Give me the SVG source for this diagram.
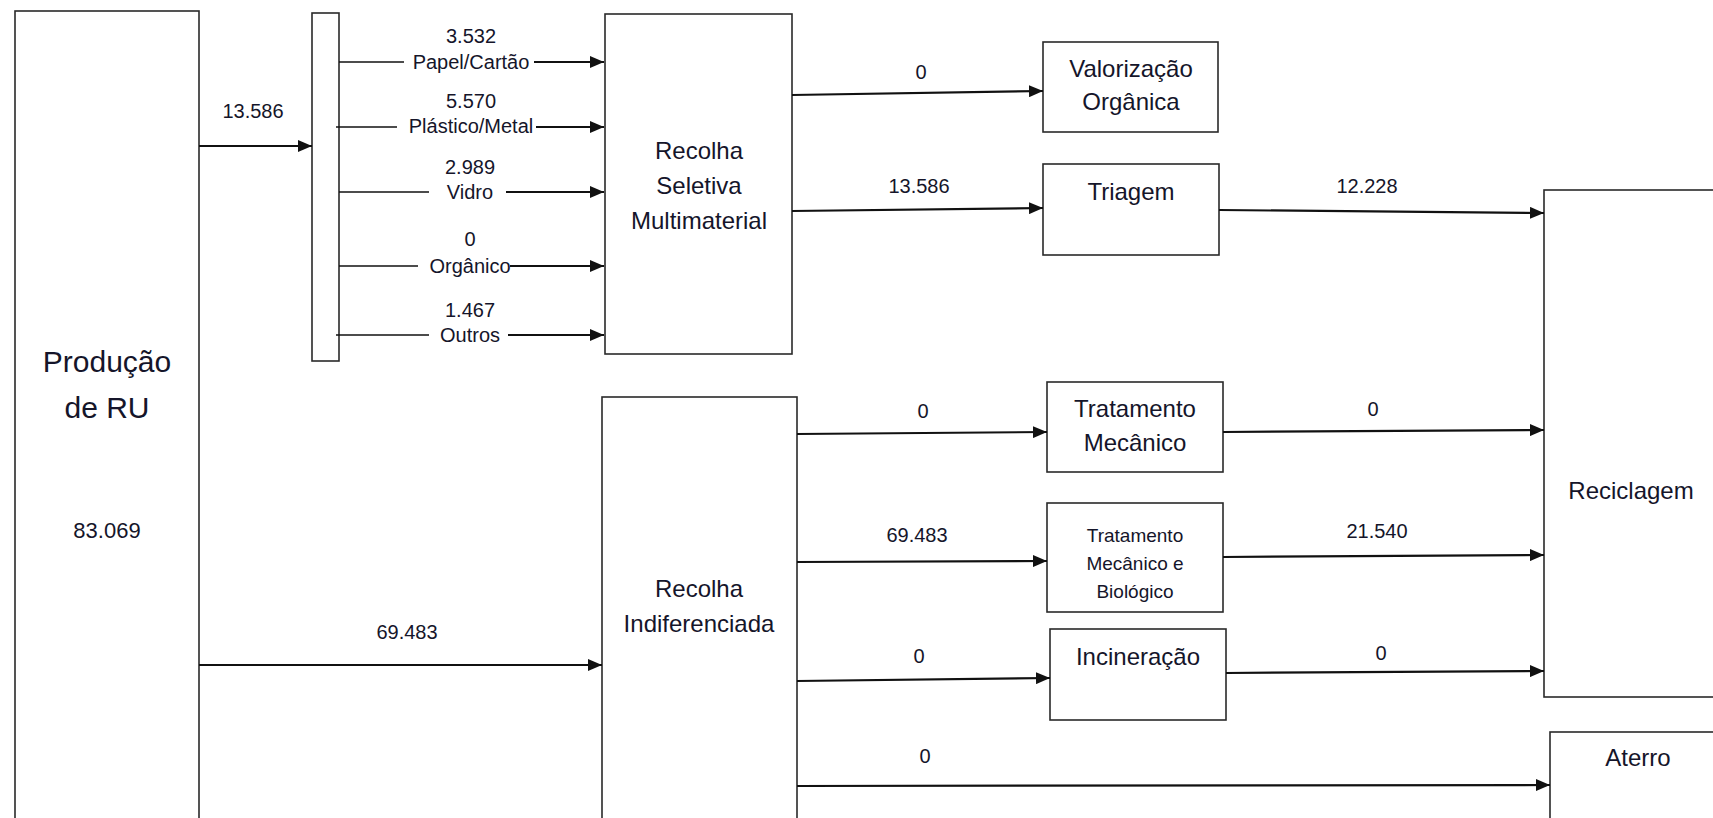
<svg xmlns="http://www.w3.org/2000/svg" width="1713" height="818" viewBox="0 0 1713 818">
<style>
.box{fill:#fff;stroke:#2a2a2a;stroke-width:1.6}
.t{font-family:"Liberation Sans",Arial,sans-serif;fill:#15152a;text-anchor:middle}
.big{font-size:24px}
.lbl{font-size:20px}
.ln{stroke:#111;stroke-width:2.2;fill:none}
.thin{stroke:#111;stroke-width:1.5;fill:none}
</style>
<defs>
<marker id="ah" markerUnits="userSpaceOnUse" markerWidth="15" markerHeight="12" refX="14" refY="6" orient="auto">
<path d="M0,0 L14,6 L0,12 z" fill="#111"/>
</marker>
</defs>
<rect width="1713" height="818" fill="#fff"/>

<g id="producao">
<rect class="box" x="15" y="11" width="184" height="830"/>
<text class="t" x="107" y="372" font-size="30">Produção</text>
<text class="t" x="107" y="418" font-size="30">de RU</text>
<text class="t" x="107" y="538" font-size="22">83.069</text>
</g>

<g id="bus">
<rect class="box" x="312" y="13" width="27" height="348"/>
</g>

<g id="recolha-seletiva">
<rect class="box" x="605" y="14" width="187" height="340"/>
<text class="t big" x="699" y="159">Recolha</text>
<text class="t big" x="699" y="194">Seletiva</text>
<text class="t big" x="699" y="229">Multimaterial</text>
</g>

<g id="recolha-indiferenciada">
<rect class="box" x="602" y="397" width="195" height="440"/>
<text class="t big" x="699" y="597">Recolha</text>
<text class="t big" x="699" y="632">Indiferenciada</text>
</g>

<g id="valorizacao">
<rect class="box" x="1043" y="42" width="175" height="90"/>
<text class="t big" x="1131" y="77">Valorização</text>
<text class="t big" x="1131" y="110">Orgânica</text>
</g>

<g id="triagem">
<rect class="box" x="1043" y="164" width="176" height="91"/>
<text class="t big" x="1131" y="200">Triagem</text>
</g>

<g id="tratamento-mecanico">
<rect class="box" x="1047" y="382" width="176" height="90"/>
<text class="t big" x="1135" y="417">Tratamento</text>
<text class="t big" x="1135" y="451">Mecânico</text>
</g>

<g id="tmb">
<rect class="box" x="1047" y="503" width="176" height="109"/>
<text class="t" x="1135" y="542" font-size="19">Tratamento</text>
<text class="t" x="1135" y="570" font-size="19">Mecânico e</text>
<text class="t" x="1135" y="598" font-size="19">Biológico</text>
</g>

<g id="incineracao">
<rect class="box" x="1050" y="629" width="176" height="91"/>
<text class="t big" x="1138" y="665">Incineração</text>
</g>

<g id="reciclagem">
<rect class="box" x="1544" y="190" width="190" height="507"/>
<text class="t big" x="1631" y="499">Reciclagem</text>
</g>

<g id="aterro">
<rect class="box" x="1550" y="732" width="190" height="110"/>
<text class="t big" x="1638" y="766">Aterro</text>
</g>

<g id="connectors">
<line class="ln" x1="199" y1="146" x2="312" y2="146" stroke-width="2.8" marker-end="url(#ah)"/>
<line class="ln" x1="199" y1="665" x2="602" y2="665" marker-end="url(#ah)"/>

<line class="thin" x1="339" y1="62" x2="404" y2="62"/>
<line class="ln" x1="534" y1="62" x2="604" y2="62" marker-end="url(#ah)"/>
<line class="thin" x1="336" y1="127" x2="397" y2="127"/>
<line class="ln" x1="536" y1="127" x2="604" y2="127" marker-end="url(#ah)"/>
<line class="thin" x1="339" y1="192" x2="429" y2="192"/>
<line class="ln" x1="506" y1="192" x2="604" y2="192" marker-end="url(#ah)"/>
<line class="thin" x1="339" y1="266" x2="418" y2="266"/>
<line class="ln" x1="510" y1="266" x2="604" y2="266" marker-end="url(#ah)"/>
<line class="thin" x1="336" y1="335" x2="429" y2="335"/>
<line class="ln" x1="508" y1="335" x2="604" y2="335" marker-end="url(#ah)"/>

<line class="ln" x1="792" y1="95" x2="1043" y2="91" marker-end="url(#ah)"/>
<line class="ln" x1="792" y1="211" x2="1043" y2="208" marker-end="url(#ah)"/>
<line class="ln" x1="1219" y1="210" x2="1544" y2="213" marker-end="url(#ah)"/>
<line class="ln" x1="797" y1="434" x2="1047" y2="432" marker-end="url(#ah)"/>
<line class="ln" x1="797" y1="562" x2="1047" y2="561" marker-end="url(#ah)"/>
<line class="ln" x1="797" y1="681" x2="1050" y2="678" marker-end="url(#ah)"/>
<line class="ln" x1="797" y1="786" x2="1550" y2="785" marker-end="url(#ah)"/>
<line class="ln" x1="1223" y1="432" x2="1544" y2="430" marker-end="url(#ah)"/>
<line class="ln" x1="1223" y1="557" x2="1544" y2="555" marker-end="url(#ah)"/>
<line class="ln" x1="1226" y1="673" x2="1544" y2="671" marker-end="url(#ah)"/>

<text class="t lbl" x="471" y="43">3.532</text>
<text class="t lbl" x="471" y="69">Papel/Cartão</text>
<text class="t lbl" x="471" y="108">5.570</text>
<text class="t lbl" x="471" y="133">Plástico/Metal</text>
<text class="t lbl" x="470" y="174">2.989</text>
<text class="t lbl" x="470" y="199">Vidro</text>
<text class="t lbl" x="470" y="246">0</text>
<text class="t lbl" x="470" y="273">Orgânico</text>
<text class="t lbl" x="470" y="317">1.467</text>
<text class="t lbl" x="470" y="342">Outros</text>

<text class="t lbl" x="253" y="118">13.586</text>
<text class="t lbl" x="407" y="639">69.483</text>
<text class="t lbl" x="921" y="79">0</text>
<text class="t lbl" x="919" y="193">13.586</text>
<text class="t lbl" x="1367" y="193">12.228</text>
<text class="t lbl" x="923" y="418">0</text>
<text class="t lbl" x="1373" y="416">0</text>
<text class="t lbl" x="917" y="542">69.483</text>
<text class="t lbl" x="1377" y="538">21.540</text>
<text class="t lbl" x="919" y="663">0</text>
<text class="t lbl" x="1381" y="660">0</text>
<text class="t lbl" x="925" y="763">0</text>
</g>
</svg>
